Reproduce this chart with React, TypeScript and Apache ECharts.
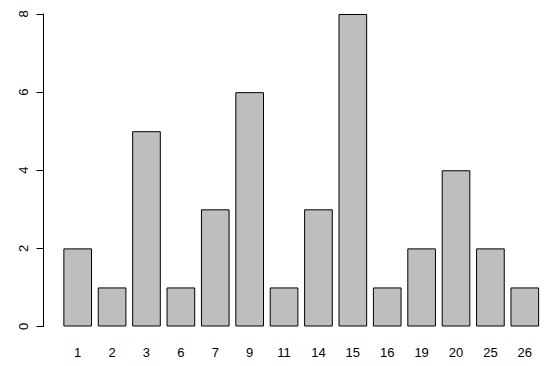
import React, { useEffect, useRef } from "react";
import * as echarts from "echarts";

const categories = ["1", "2", "3", "6", "7", "9", "11", "14", "15", "16", "19", "20", "25", "26"];
const counts = [2, 1, 5, 1, 3, 6, 1, 3, 8, 1, 2, 4, 2, 1];
const yTicks = [0, 2, 4, 6, 8];

export default function App() {
  const ref = useRef<HTMLDivElement>(null);
  useEffect(() => {
    if (!ref.current) return;
    const chart = echarts.init(ref.current, null, { renderer: "svg" });
    chart.setOption({
      animation: false,
      backgroundColor: "#ffffff",
      textStyle: { fontFamily: "Liberation Sans, Arial, sans-serif" },
      grid: { left: 60.5, right: 8, top: 14, bottom: 39.5 },
      xAxis: {
        type: "category",
        data: categories,
        axisLine: { show: false },
        axisTick: { show: false },
        axisLabel: { color: "#000", fontSize: 13, margin: 19 },
      },
      yAxis: {
        type: "value",
        min: yTicks[0],
        max: yTicks[yTicks.length - 1],
        interval: 2,
        offset: 17,
        splitLine: { show: false },
        axisLine: { show: true, lineStyle: { color: "#000", width: 1 } },
        axisTick: { show: true, length: 7, lineStyle: { color: "#000" } },
        axisLabel: { color: "#000", fontSize: 13, rotate: 90, margin: 14 },
      },
      series: [
        {
          type: "bar",
          data: counts,
          barCategoryGap: "16.7%",
          itemStyle: { color: "#bebebe", borderColor: "#000", borderWidth: 1 },
        },
      ],
    });
    return () => chart.dispose();
  }, []);
  return <div ref={ref} style={{ width: 550, height: 366, margin: -8 }} />;
}
